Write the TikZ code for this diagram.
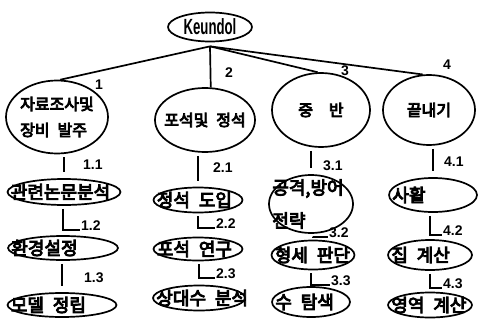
\documentclass[tikz,border=0pt]{standalone}
\usepackage{fontspec}
\setsansfont{Liberation Sans}
\newfontfamily\kr[FakeBold=5, WordSpace=2.2]{Noto Sans CJK KR}
\usetikzlibrary{positioning, shapes.geometric}

\begin{document}
\begin{tikzpicture}[
x=1pt, y=-1pt,
oval/.style={ellipse,
  draw,
  line width=1.7pt,
  inner sep=0pt
},
big/.style={label={[font=\kr\fontsize{16}{26}\selectfont, align=left]center:{#1}}},
small/.style={label={[font=\kr\fontsize{18}{33}\selectfont, align=left, anchor=west, xshift=4pt, inner sep=0pt]west:{#1}}},
tag/.style={font=\sffamily\bfseries\fontsize{14}{14}\selectfont, inner sep=1pt},
edge/.style={line width=1.7pt},
link/.style={line width=1.7pt, shorten <=3pt, shorten >=6pt},
stub/.style={line width=1.7pt, shorten <=3pt}
]
\useasboundingbox (0,0) rectangle (478,329);

% root
\node[oval, minimum width=84, minimum height=29] (root) at (210,27)
    {\sffamily\bfseries\fontsize{22}{22}\selectfont\scalebox{0.6}[1]{Keundol}};
\coordinate[below=4pt of root] (hub);

% first level
\node[oval, minimum width=102, minimum height=73, big={자료조사및\\장비 발주}] (n1) at (57,117) {};
\node[oval, minimum width=100, minimum height=64, big={포석및 정석}] (n2) at (205,120) {};
\node[oval, minimum width=98, minimum height=74, big={중\hspace{8pt} 반}] (n3) at (321,110) {};
\node[oval, minimum width=92, minimum height=70, big={끝내기}] (n4) at (429,110) {};

\draw[edge] (hub) -- (n1.85);
\draw[edge] (hub) -- (n2.80);
\draw[edge] (hub) -- (n3.95);
\draw[edge] (hub) -- (n4.100);

\node[tag] (t1) at (99,85) {1};
\node[tag] (t2) at (229,73) {2};
\node[tag] (t3) at (345,71) {3};
\node[tag] (t4) at (447,65) {4};

% second level
\node[oval, minimum width=113, minimum height=26, small={관련논문분석}] (n11) at (64,192) {};
\node[oval, minimum width=110, minimum height=24, small={환경설정}] (n12) at (63,248) {};
\node[oval, minimum width=109, minimum height=24, small={모델 정립}] (n13) at (62,305) {};

\node[oval, minimum width=89, minimum height=25, small={정석 도입}] (n21) at (198,200) {};
\node[oval, minimum width=89, minimum height=23, small={포석 연구}] (n22) at (198,249) {};
\node[oval, minimum width=92, minimum height=25, small={상대수 분석}] (n23) at (199,298) {};

\node[oval, minimum width=84, minimum height=58, small={공격,방어\\전략}] (n31) at (311,204) {};
\node[oval, minimum width=83, minimum height=29, small={형세 판단}] (n32) at (313,255) {};
\node[oval, minimum width=78, minimum height=30, small={수 탐색}] (n33) at (311,302) {};

\node[oval, minimum width=88, minimum height=34, small={사활}] (n41) at (433,195) {};
\node[oval, minimum width=84, minimum height=30, small={집 계산}] (n42) at (430,255) {};
\node[oval, minimum width=84, minimum height=25, small={영역 계산}] (n43) at (430,305) {};

% numbers of the sub tasks
\node[tag, anchor=west] (l11) at (82,165) {1.1};
\node[tag, anchor=base west] (l12) at (80,230) {1.2};
\node[tag, anchor=west] (l13) at (83,278) {1.3};
\node[tag, anchor=west] (l21) at (212,168) {2.1};
\node[tag, anchor=base west] (l22) at (215,228) {2.2};
\node[tag, anchor=base west] (l23) at (215,278) {2.3};
\node[tag, anchor=west] (l31) at (322,166) {3.1};
\node[tag, anchor=base west] (l32) at (328,237) {3.2};
\node[tag, anchor=base west] (l33) at (330,285) {3.3};
\node[tag, anchor=west] (l41) at (443,162) {4.1};
\node[tag, anchor=base west] (l42) at (442,235) {4.2};
\node[tag, anchor=base west] (l43) at (442,288) {4.3};

\draw[link] (n11.north |- n1.south) -- (n11.north);
\draw[stub] (n12.north |- n11.south) -- (n12.north |- l12.base west) -- (l12.base west);
\draw[link] (n13.north |- n12.south) -- (n13.north);

\draw[link] (n21.north |- n2.south) -- (n21.north);
\draw[stub] (n22.north |- n21.south) -- (n22.north |- l22.base west) -- (l22.base west);
\draw[stub] (n23.north |- n22.south) -- (n23.north |- l23.base west) -- (l23.base west);

\draw[link] (n31.north |- n3.south) -- (n31.north);
\draw[stub] (n32.north |- n31.south) -- (n32.north |- l32.base west) -- (l32.base west);
\draw[stub] (n33.north |- n32.south) -- (n33.north |- l33.base west) -- (l33.base west);

\draw[link] (n41.north |- n4.south) -- (n41.north);
\draw[stub] (n42.north |- n41.south) -- (n42.north |- l42.base west) -- (l42.base west);
\draw[stub] (n43.north |- n42.south) -- (n43.north |- l43.base west) -- (l43.base west);
\end{tikzpicture}
\end{document}
